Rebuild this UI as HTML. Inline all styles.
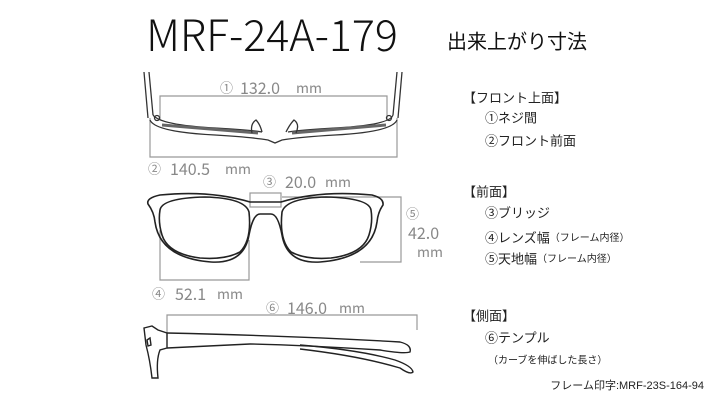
<!DOCTYPE html>
<html><head><meta charset="utf-8"><style>
html,body{margin:0;padding:0;background:#fff;}
svg{display:block;font-family:"Liberation Sans","Noto Sans CJK JP",sans-serif;}
</style></head><body>
<svg width="714" height="400" viewBox="0 0 714 400" xmlns="http://www.w3.org/2000/svg">
<rect width="714" height="400" fill="#fff"/>
<text x="272" y="33" font-size="43" fill="#111" text-anchor="middle" dominant-baseline="central" font-family="'Noto Sans CJK JP',sans-serif" font-weight="300">MRF-24A-179</text>
<text x="517" y="40" font-size="20" fill="#111" text-anchor="middle" dominant-baseline="central" font-family="'Noto Sans CJK JP',sans-serif">出来上がり寸法</text>

<g fill="none" stroke="#999" stroke-width="1.2">
<polyline points="160,120 160,96 387,96 387,120"/>
<polyline points="150,118 150,157 397,157 397,118"/>
<rect x="250" y="193" width="31" height="14"/>
<polyline points="282,197 401,197 401,262 360,262"/>
<polyline points="160,230 160,280 249,280 249,240"/>
<polyline points="167,340 167,315 417,315 417,330"/>
</g>

<g fill="#888" font-size="14" dominant-baseline="central" font-family="'Noto Sans CJK JP',sans-serif">
<text x="220" y="87" font-size="13">①</text><text x="240" y="87" font-size="16">132.0</text><text x="296" y="88">mm</text>
<text x="148" y="168" font-size="13">②</text><text x="170" y="168" font-size="16">140.5</text><text x="225" y="169">mm</text>
<text x="263" y="181" font-size="13">③</text><text x="285" y="181" font-size="16">20.0</text><text x="325" y="182">mm</text>
<text x="406" y="213" font-size="13">⑤</text><text x="408" y="232" font-size="16">42.0</text><text x="417" y="252">mm</text>
<text x="152" y="293" font-size="13">④</text><text x="175" y="293" font-size="16">52.1</text><text x="217" y="294">mm</text>
<text x="266" y="307" font-size="13">⑥</text><text x="287" y="307" font-size="16">146.0</text><text x="339" y="308">mm</text>
</g>

<g fill="none" stroke="#333" stroke-width="1.3">
<path d="M144,72 L148,118 M149,72 L153,115"/>
<path d="M402,72 L398,118 M397,72 L393,115"/>
<path d="M150,120 Q155,132 215,135 Q250,137 268,140 L275,143 L282,140 Q300,137 335,135 Q392,132 397,120"/>
<path d="M153,115 Q160,125 215,128 Q250,130 262,132 M288,132 Q300,130 335,128 Q390,125 393,115"/>
<path d="M162,125 L258,133 M292,133 L386,125" stroke-width="3" stroke="#666"/>
<path d="M252,133 Q250,124 256,120 Q260,124 262,132 M286,132 Q290,124 294,120 Q300,124 296,133"/>
<circle cx="157" cy="118" r="2.5"/><circle cx="389" cy="118" r="2.5"/>
</g>

<g fill="none" stroke="#222" stroke-width="1.6">
<path d="M148,204 Q146,198 160,195 Q210,190 250,202 L281,202 Q320,190 372,195 Q384,198 383,205 Q378,212 377,222 Q372,258 320,262 Q287,264 282,235 Q278,214 271,214 L260,214 Q253,214 249,235 Q244,264 211,262 Q160,258 155,222 Q154,212 148,204Z"/>
<path d="M160,210 Q162,198 205,197 Q245,198 249,212 Q252,240 240,252 Q225,260 200,258 Q168,254 162,235 Q158,222 160,210Z"/>
<path d="M371,210 Q369,198 326,197 Q286,198 282,212 Q279,240 291,252 Q306,260 331,258 Q363,254 369,235 Q373,222 371,210Z"/>
</g>

<g fill="none" stroke="#222" stroke-width="1.4">
<path d="M144,328 L152,326 L158,330 L167,333 L167,348 L160,350 Q156,360 158,378 L152,378 Q150,360 146,345 Z"/>
<path d="M167,333 Q300,336 400,342 Q412,345 410,352 Q404,354 380,350 Q300,345 250,344 L167,348"/>
<path d="M300,345 Q360,350 395,360 Q412,366 413,372 Q410,375 400,368 Q360,356 300,349"/>
<path d="M147,340 L150,338 L151,345 L148,346Z"/>
</g>

<g fill="#222" font-size="13" dominant-baseline="central" font-family="'Liberation Sans','Noto Sans CJK JP',sans-serif">
<text x="463" y="98">【フロント上面】</text>
<text x="485" y="118">①ネジ間</text>
<text x="485" y="141">②フロント前面</text>
<text x="463" y="192">【前面】</text>
<text x="485" y="213">③ブリッジ</text>
<text x="485" y="238">④レンズ幅<tspan font-size="10">（フレーム内径）</tspan></text>
<text x="485" y="259">⑤天地幅<tspan font-size="10">（フレーム内径）</tspan></text>
<text x="463" y="316">【側面】</text>
<text x="485" y="338">⑥テンプル</text>
<text x="488" y="361" font-size="10">（カーブを伸ばした長さ）</text>
<text x="704" y="386" font-size="11" text-anchor="end">フレーム印字:MRF-23S-164-94</text>
</g>
</svg>
</body></html>
